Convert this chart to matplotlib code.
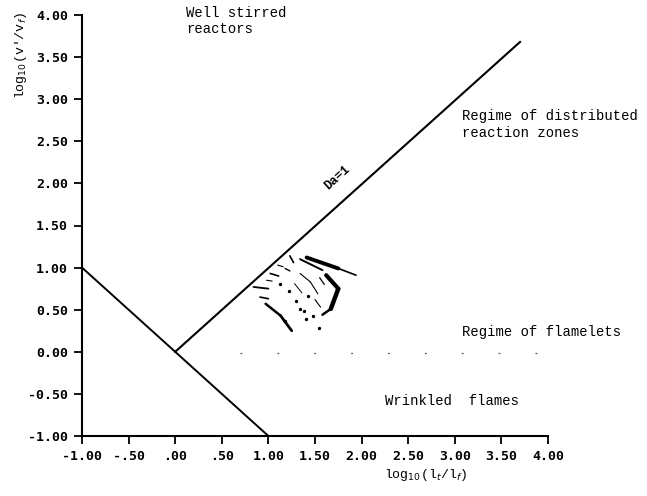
import matplotlib
matplotlib.use("Agg")
import matplotlib.pyplot as plt
import numpy as np

# axis ticks
x_ticks = [-1.0, -0.5, 0.0, 0.5, 1.0, 1.5, 2.0, 2.5, 3.0, 3.5, 4.0]
x_tick_labels = ["-1.00", "-.50", ".00", ".50", "1.00", "1.50",
                 "2.00", "2.50", "3.00", "3.50", "4.00"]
y_ticks = [-1.0, -0.5, 0.0, 0.5, 1.0, 1.5, 2.0, 2.5, 3.0, 3.5, 4.0]
y_tick_labels = ["-1.00", "-0.50", "0.00", "0.50", "1.00", "1.50",
                 "2.00", "2.50", "3.00", "3.50", "4.00"]

# regime boundaries (log10 l_t/l_f, log10 v'/v_f)
ka_line_x = [-1.0, 1.0]
ka_line_y = [1.0, -1.0]
da_line_x = [0.0, 3.70]
da_line_y = [0.0, 3.68]
flamelet_x = [0.70, 3.97]
flamelet_y = [-0.02, -0.02]

# measured region: pen strokes (x0, y0, x1, y1, width)
strokes = [
    (1.23, 1.14, 1.27, 1.06, 1.2),
    (1.34, 1.10, 1.58, 0.97, 1.4),
    (1.41, 1.12, 1.75, 0.99, 2.8),
    (1.75, 0.99, 1.94, 0.91, 1.2),
    (1.62, 0.91, 1.75, 0.75, 3.0),
    (1.75, 0.75, 1.67, 0.51, 3.2),
    (1.67, 0.51, 1.58, 0.44, 1.8),
    (1.02, 0.93, 1.11, 0.90, 1.2),
    (1.18, 0.99, 1.23, 0.96, 1.0),
    (0.84, 0.77, 1.00, 0.75, 1.3),
    (0.91, 0.65, 1.00, 0.63, 1.2),
    (0.97, 0.57, 1.13, 0.43, 1.8),
    (1.13, 0.43, 1.25, 0.25, 2.0),
    (1.34, 0.93, 1.45, 0.83, 0.8),
    (1.45, 0.83, 1.53, 0.69, 0.8),
    (1.28, 0.81, 1.36, 0.70, 0.7),
    (1.50, 0.62, 1.56, 0.53, 0.8),
    (1.10, 1.03, 1.16, 1.01, 0.8),
    (1.55, 0.88, 1.60, 0.80, 0.9),
    (0.98, 0.85, 1.04, 0.84, 0.8),
]
dots_x = [1.34, 1.40, 1.18, 1.48, 1.54, 1.30, 1.22, 1.42, 1.12, 1.38]
dots_y = [0.51, 0.39, 0.37, 0.42, 0.28, 0.60, 0.72, 0.66, 0.80, 0.48]

fig = plt.figure(figsize=(6.47, 4.96), dpi=100)
ax = fig.add_axes([82 / 647, 1 - 436 / 496, 466 / 647, 421 / 496])

ax.plot(ka_line_x, ka_line_y, color="black", lw=1.4)
ax.plot(da_line_x, da_line_y, color="black", lw=1.5)
ax.plot(flamelet_x, flamelet_y, color="0.35", lw=0.9, dashes=(1.5, 28))

for x0, y0, x1, y1, w in strokes:
    ax.plot([x0, x1], [y0, y1], color="black", lw=w, solid_capstyle="round")
ax.scatter(dots_x, dots_y, s=2, color="black")

ax.set_xlim(-1.0, 4.0)
ax.set_ylim(-1.0, 4.0)
ax.set_xticks(x_ticks)
ax.set_xticklabels(x_tick_labels)
ax.set_yticks(y_ticks)
ax.set_yticklabels(y_tick_labels)

for side in ("top", "right"):
    ax.spines[side].set_visible(False)
for side in ("left", "bottom"):
    ax.spines[side].set_linewidth(1.5)
ax.tick_params(direction="out", length=6, width=1.3, pad=4,
               labelsize=9.5)
for lab in ax.get_xticklabels() + ax.get_yticklabels():
    lab.set_family("DejaVu Sans Mono")
    lab.set_weight("bold")

mono = dict(family="Liberation Mono", fontsize=10, color="black")
ax.text(0.12, 3.93, "Well stirred\nreactors", va="center", ha="left",
        clip_on=False, **mono)
ax.text(3.08, 2.70, "Regime of distributed\nreaction zones", va="center",
        ha="left", clip_on=False, **mono)
ax.text(3.08, 0.24, "Regime of flamelets", va="center", ha="left",
        clip_on=False, **mono)
ax.text(2.25, -0.58, "Wrinkled  flames", va="center", ha="left",
        clip_on=False, **mono)
ax.text(1.66, 1.90, "Da=1", rotation=42, rotation_mode="anchor",
        ha="left", va="bottom", family="Liberation Mono", fontsize=9,
        fontweight="bold")

ax.text(-0.13, 0.905, "log$_{10}$(v'/v$_f$)", rotation=90,
        transform=ax.transAxes, ha="center", va="center",
        family="Liberation Mono", fontsize=9.5)
ax.text(0.738, -0.092, "log$_{10}$(l$_t$/l$_f$)",
        transform=ax.transAxes, ha="center", va="center",
        family="Liberation Mono", fontsize=9.5)

fig.savefig("out.png", dpi=100)
